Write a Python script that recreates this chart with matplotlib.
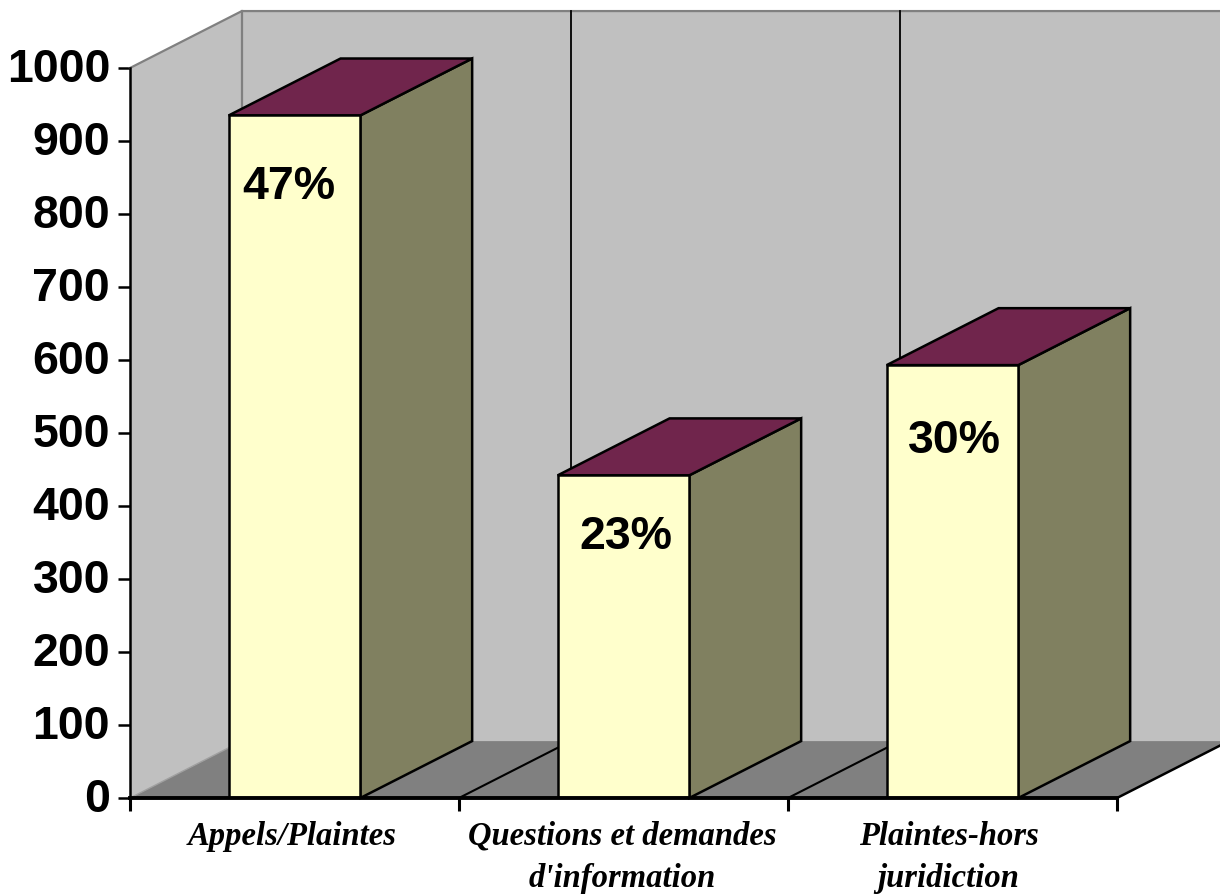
import matplotlib
matplotlib.use('Agg')
import matplotlib.pyplot as plt
from matplotlib.patches import Polygon

categories = ['Appels/Plaintes', 'Questions et demandes\nd\'information', 'Plaintes-hors\njuridiction']
values = [935, 442, 593]
percent_labels = ['47%', '23%', '30%']
y_ticks = [0, 100, 200, 300, 400, 500, 600, 700, 800, 900, 1000]

W, H = 1220, 896
BAR_W = 0.4
# oblique offset of the back plane, in axis units
DX = 0.34
DY = 78
WALL = '#c0c0c0'
FLOOR = '#808080'
FRONT = '#ffffcc'
SIDE = '#808060'
TOP = '#70254c'

fig = plt.figure(figsize=(W / 100, H / 100), dpi=100, facecolor='white')
ax = fig.add_axes([130 / W, (H - 798) / H, 987 / W, 730 / H])
ax.set_xlim(-0.5, 2.5)
ax.set_ylim(0, 1000)
ax.patch.set_visible(False)


def poly(pts, color, edge='none', lw=0, z=1):
    ax.add_patch(Polygon(pts, closed=True, facecolor=color, edgecolor=edge, linewidth=lw,
                         zorder=z, clip_on=False, joinstyle='miter'))


x0, x1 = -0.5, 2.5
# walls and floor
poly([(x0, 0), (x0 + DX, DY), (x0 + DX, 1000 + DY), (x0, 1000)], WALL)
poly([(x0 + DX, DY), (x1 + DX, DY), (x1 + DX, 1000 + DY), (x0 + DX, 1000 + DY)], WALL)
poly([(x0, 0), (x1, 0), (x1 + DX, DY), (x0 + DX, DY)], FLOOR)

# wall edges
ax.plot([x0, x0 + DX, x1 + DX], [1000, 1000 + DY, 1000 + DY], color='#808080', lw=1.6, clip_on=False, zorder=2)
ax.plot([x0 + DX, x0 + DX], [DY, 1000 + DY], color='#808080', lw=1.6, clip_on=False, zorder=2)
ax.plot([x0, x0 + DX], [0, DY], color='#a0a0a0', lw=1.0, clip_on=False, zorder=2)
ax.plot([x1, x1 + DX], [0, DY], color='black', lw=1.8, clip_on=False, zorder=2)

# gridlines between categories, up the back wall and across the floor
for g in [0.5, 1.5]:
    ax.plot([g + DX, g + DX], [DY, 1000 + DY], color='black', lw=1.3, clip_on=False, zorder=2)
    ax.plot([g, g + DX], [0, DY], color='black', lw=1.5, clip_on=False, zorder=2)

# bars
ax.bar(range(3), values, width=BAR_W, color=FRONT, edgecolor='black', linewidth=1.8, zorder=4)
for i, v in enumerate(values):
    l, r = i - BAR_W / 2, i + BAR_W / 2
    poly([(r, 0), (r + DX, DY), (r + DX, v + DY), (r, v)], SIDE, 'black', 1.8, 3)
    poly([(l, v), (r, v), (r + DX, v + DY), (l + DX, v + DY)], TOP, 'black', 1.8, 3)

# percent labels inside the bars
label_dx = [-0.018, 0.008, 0.007]
label_dy = [-98, -85, -104]
for i, v in enumerate(values):
    ax.text(i + label_dx[i], v + label_dy[i], percent_labels[i], ha='center', va='center',
            family='Liberation Sans', fontweight='bold', fontsize=33.5, color='black', zorder=5)

for s in ['top', 'right']:
    ax.spines[s].set_visible(False)
ax.spines['left'].set_linewidth(1.8)
ax.spines['bottom'].set_linewidth(2.8)
ax.spines['left'].set_zorder(6)
ax.spines['bottom'].set_zorder(6)

ax.set_yticks(y_ticks)
ax.set_xticks([-0.5, 0.5, 1.5, 2.5])
ax.set_xticklabels([])
ax.tick_params(axis='y', length=8.5, width=1.8, labelleft=False)
ax.tick_params(axis='x', length=9, width=2.2, direction='out')

# y labels written by hand so they can sit slightly below the tick centre
for v in y_ticks:
    ax.annotate(str(v), xy=(x0, v), xytext=(-14.4, -1.6), textcoords='offset points', ha='right', va='center',
                family='Liberation Sans', fontweight='bold', fontsize=33.5, annotation_clip=False)

# category names under the axis
name_dx = [-0.007, -0.004, -0.012]
for i, name in enumerate(categories):
    ax.text(i + name_dx[i], -31, name, ha='center', va='top', family='Liberation Serif',
            fontweight='bold', fontstyle='italic', fontsize=23.5, linespacing=1.49,
            clip_on=False)

fig.savefig('out.png', dpi=100)
